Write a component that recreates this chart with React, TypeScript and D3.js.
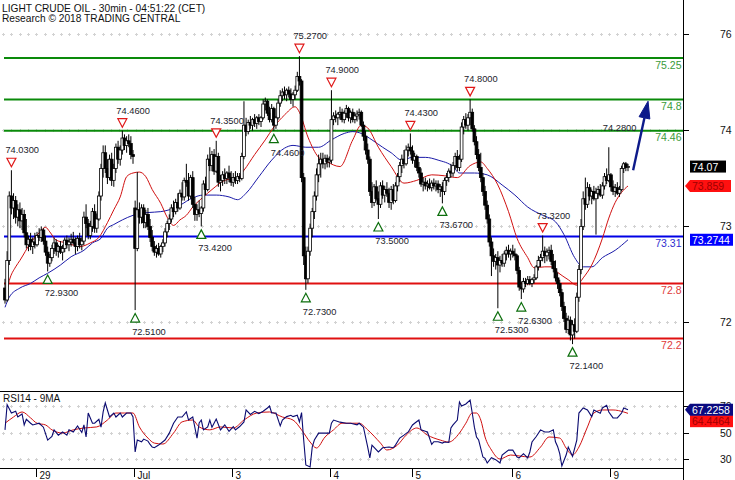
import React from 'react';
import * as d3 from 'd3';

const titleLine1 = 'LIGHT CRUDE OIL - 30min - 04:51:22 (CET)';
const titleLine2 = 'Research \u00A9 2018 TRADING CENTRAL';
const rsiTitle = 'RSI14 - 9MA';

// 30-minute candles: [open, high, low, close]
const candles: [number, number, number, number][] = [
  [72.75,72.85,72.58,72.62],[72.62,73.15,72.60,73.05],[73.05,73.80,73.00,73.75],[73.75,74.03,73.55,73.62],
  [73.62,73.78,73.50,73.70],[73.70,73.75,73.45,73.52],[73.52,73.66,73.42,73.60],[73.60,73.68,73.40,73.48],
  [73.48,73.62,73.38,73.55],[73.55,73.60,73.30,73.35],[73.35,73.50,73.18,73.22],[73.22,73.32,73.15,73.28],
  [73.28,73.35,73.16,73.20],[73.20,73.30,73.12,73.25],[73.25,73.35,73.18,73.22],[73.22,73.36,73.20,73.32],
  [73.32,73.40,73.26,73.30],[73.30,73.42,73.25,73.38],[73.38,73.40,73.22,73.26],[73.26,73.32,73.10,73.14],
  [73.14,73.20,72.93,73.02],[73.02,73.12,72.98,73.08],[73.08,73.22,73.04,73.18],[73.18,73.30,73.12,73.24],
  [73.24,73.28,73.10,73.15],[73.15,73.22,73.08,73.20],[73.20,73.26,73.12,73.14],[73.14,73.22,73.05,73.18],
  [73.18,73.30,73.14,73.27],[73.27,73.32,73.18,73.22],[73.22,73.30,73.15,73.25],[73.25,73.34,73.20,73.28],
  [73.28,73.36,73.22,73.24],[73.24,73.30,73.12,73.20],[73.20,73.32,73.15,73.29],[73.29,73.35,73.18,73.22],
  [73.22,73.30,73.16,73.26],[73.26,73.58,73.22,73.52],[73.52,73.66,73.40,73.45],[73.45,73.50,73.28,73.32],
  [73.32,73.48,73.28,73.42],[73.42,73.62,73.36,73.58],[73.58,73.66,73.35,73.40],[73.40,73.56,73.35,73.50],
  [73.50,73.80,73.48,73.75],[73.75,74.10,73.70,74.05],[74.05,74.30,73.95,74.22],[74.22,74.30,74.00,74.05],
  [74.05,74.15,73.88,73.95],[73.95,74.20,73.92,74.15],[74.15,74.22,73.86,73.92],[73.92,74.10,73.85,74.05],
  [74.05,74.32,74.00,74.28],[74.28,74.35,74.10,74.15],[74.15,74.30,74.08,74.25],[74.25,74.46,74.20,74.38],
  [74.38,74.42,74.25,74.30],[74.30,74.40,74.22,74.35],[74.35,74.42,74.28,74.32],[74.32,74.40,74.15,74.20],
  [74.20,74.25,74.10,74.18],
  [73.62,73.70,72.51,73.18],[73.18,74.01,73.15,73.60],[73.60,73.68,73.45,73.52],[73.52,73.66,73.45,73.62],
  [73.62,73.66,73.40,73.46],[73.46,73.60,73.40,73.55],[73.55,73.62,73.38,73.42],[73.42,73.50,73.25,73.30],
  [73.30,73.38,73.15,73.20],[73.20,73.26,73.10,73.14],[73.14,73.22,73.08,73.18],[73.18,73.24,73.10,73.12],
  [73.12,73.22,73.08,73.20],[73.20,73.28,73.14,73.24],[73.24,73.40,73.20,73.36],[73.36,73.48,73.30,73.45],
  [73.45,73.55,73.38,73.50],[73.50,73.66,73.46,73.62],[73.62,73.70,73.52,73.58],[73.58,73.72,73.55,73.68],
  [73.68,73.78,73.58,73.62],[73.62,73.82,73.60,73.78],[73.78,73.90,73.70,73.74],[73.74,73.95,73.70,73.92],
  [73.92,74.10,73.85,73.90],[73.90,74.00,73.70,73.75],[73.75,73.98,73.72,73.95],[73.95,74.02,73.62,73.66],
  [73.66,73.74,73.48,73.55],[73.55,73.66,73.48,73.60],[73.60,73.70,73.52,73.56],[73.56,73.64,73.42,73.62],
  [73.62,73.92,73.58,73.88],[73.88,73.96,73.76,73.82],[73.82,74.20,73.80,74.15],[74.15,74.28,74.02,74.08],
  [74.08,74.24,74.02,74.20],[74.20,74.26,73.98,74.02],[74.02,74.35,74.00,74.18],[74.18,74.22,73.85,73.90],
  [73.90,73.98,73.80,73.92],[73.92,74.02,73.86,73.98],[73.98,74.05,73.88,73.94],[73.94,74.02,73.88,74.00],
  [74.00,74.08,73.90,73.95],[73.95,74.02,73.86,73.90],
  [73.90,74.00,73.85,73.95],[73.95,74.02,73.88,73.92],[73.92,74.00,73.88,73.96],[73.96,74.00,73.90,73.94],
  [73.94,74.22,73.92,74.18],[74.18,74.78,74.15,74.52],[74.52,74.60,74.40,74.45],[74.45,74.58,74.42,74.55],
  [74.55,74.62,74.48,74.52],[74.52,74.60,74.46,74.58],[74.58,74.64,74.50,74.54],[74.54,74.62,74.48,74.60],
  [74.60,74.64,74.52,74.56],[74.56,74.62,74.50,74.60],[74.60,74.80,74.58,74.75],[74.75,74.82,74.68,74.78],
  [74.78,74.80,74.62,74.65],[74.65,74.72,74.55,74.58],[74.58,74.75,74.55,74.70],[74.70,74.72,74.46,74.52],
  [74.52,74.62,74.48,74.60],[74.60,74.80,74.58,74.76],[74.76,74.90,74.72,74.84],[74.84,74.92,74.78,74.88],
  [74.88,74.94,74.80,74.85],[74.85,74.92,74.78,74.90],[74.90,74.94,74.82,74.86],[74.86,74.92,74.75,74.80],
  [74.80,74.88,74.72,74.85],[74.85,74.95,74.80,74.90],[74.90,75.10,74.88,75.05],[75.05,75.27,74.95,75.00],
  [75.00,75.02,73.90,73.95],[73.95,74.00,73.00,73.10],[73.10,73.20,72.73,72.85],[72.85,73.20,72.80,73.15],
  [73.15,73.45,73.10,73.40],[73.40,73.62,73.30,73.58],[73.58,73.80,73.50,73.75],[73.75,74.05,73.70,73.98],
  [73.98,74.20,73.90,74.10],[74.10,74.22,73.95,74.15],[74.15,74.22,74.05,74.10],[74.10,74.20,74.04,74.16],
  [74.16,74.20,74.06,74.12],[74.12,74.18,74.06,74.14],
  [74.14,74.90,74.10,74.58],[74.58,74.66,74.52,74.62],[74.62,74.68,74.55,74.60],[74.60,74.66,74.52,74.64],
  [74.64,74.72,74.58,74.66],[74.66,74.70,74.55,74.58],[74.58,74.68,74.54,74.65],[74.65,74.74,74.60,74.70],
  [74.70,74.72,74.56,74.60],[74.60,74.68,74.54,74.66],[74.66,74.70,74.55,74.58],[74.58,74.66,74.54,74.62],
  [74.62,74.68,74.56,74.64],[74.64,74.70,74.58,74.66],[74.66,74.68,74.50,74.52],[74.52,74.56,74.35,74.40],
  [74.40,74.46,74.20,74.25],[74.25,74.32,74.10,74.15],[74.15,74.18,73.75,73.80],[73.80,73.90,73.62,73.68],
  [73.68,73.88,73.64,73.85],[73.85,73.92,73.70,73.72],[73.72,73.80,73.50,73.66],[73.66,73.90,73.62,73.86],
  [73.86,73.92,73.72,73.76],[73.76,73.86,73.68,73.82],[73.82,73.90,73.74,73.78],[73.78,73.84,73.62,73.68],
  [73.68,73.86,73.60,73.82],[73.82,73.88,73.66,73.70],[73.70,73.90,73.68,73.86],[73.86,74.00,73.80,73.96],
  [73.96,74.12,73.90,74.08],[74.08,74.20,74.00,74.15],[74.15,74.25,74.05,74.10],[74.10,74.30,74.08,74.25],
  [74.25,74.32,74.18,74.28],[74.28,74.43,74.20,74.24],
  [74.24,74.30,74.10,74.14],[74.14,74.22,74.06,74.18],[74.18,74.20,74.02,74.06],[74.06,74.12,73.95,74.00],
  [74.00,74.05,73.85,73.88],[73.88,73.95,73.80,73.90],[73.90,73.95,73.82,73.86],[73.86,73.92,73.80,73.88],
  [73.88,73.94,73.82,73.84],[73.84,73.92,73.80,73.89],[73.89,73.94,73.82,73.86],[73.86,73.92,73.80,73.88],
  [73.88,73.92,73.78,73.82],[73.82,73.88,73.74,73.85],[73.85,73.90,73.67,73.80],[73.80,73.95,73.76,73.92],
  [73.92,74.00,73.86,73.95],[73.95,74.05,73.90,74.02],[74.02,74.10,73.95,74.00],[74.00,74.12,73.96,74.08],
  [74.08,74.22,74.04,74.18],[74.18,74.25,74.02,74.06],[74.06,74.20,74.02,74.15],[74.15,74.55,74.12,74.50],
  [74.50,74.62,74.42,74.58],[74.58,74.65,74.48,74.52],[74.52,74.64,74.46,74.60],[74.60,74.80,74.52,74.66],
  [74.66,74.70,74.45,74.48],[74.48,74.52,74.30,74.34],[74.34,74.40,74.15,74.20],[74.20,74.26,74.02,74.06],
  [74.06,74.22,73.90,73.95],[73.95,74.00,73.75,73.80],[73.80,73.86,73.60,73.65],[73.65,73.70,73.45,73.50],
  [73.50,73.55,73.20,73.25],[73.25,73.30,72.88,73.10],[73.10,73.18,72.98,73.04],[73.04,73.12,72.95,73.08],
  [73.08,73.15,72.53,73.00],[73.00,73.10,72.92,73.05],[73.05,73.12,72.98,73.02],[73.02,73.15,72.98,73.12],
  [73.12,73.20,73.05,73.16],[73.16,73.22,73.08,73.12],[73.12,73.18,73.05,73.15],
  [73.15,73.22,73.08,73.12],[73.12,73.18,73.05,73.10],[73.10,73.12,72.90,72.94],[72.94,72.98,72.72,72.76],
  [72.76,72.82,72.63,72.74],[72.74,72.86,72.70,72.82],[72.82,72.86,72.76,72.80],[72.80,72.88,72.78,72.84],
  [72.84,72.88,72.78,72.80],[72.80,72.86,72.76,72.84],[72.84,72.90,72.80,72.86],[72.86,73.00,72.84,72.98],
  [72.98,73.10,72.94,73.05],[73.05,73.12,72.98,73.08],[73.08,73.32,73.04,73.15],[73.15,73.20,73.02,73.10],
  [73.10,73.18,73.04,73.14],[73.14,73.20,73.06,73.16],[73.16,73.22,73.00,73.04],[73.04,73.12,72.92,72.96],
  [72.96,73.05,72.82,72.86],[72.86,72.92,72.74,72.80],[72.80,72.84,72.66,72.70],[72.70,72.74,72.50,72.55],
  [72.55,72.60,72.38,72.42],[72.42,72.48,72.26,72.30],[72.30,72.45,72.25,72.40],[72.40,72.44,72.18,72.24],
  [72.24,72.40,72.14,72.35],[72.35,72.42,72.20,72.28],[72.28,72.70,72.26,72.65],[72.65,73.00,72.60,72.95],
  [72.95,73.50,72.90,73.42],[73.42,73.80,73.38,73.72],[73.72,73.95,73.60,73.66],[73.66,73.90,73.62,73.84],
  [73.84,73.88,73.70,73.75],[73.75,73.82,73.66,73.80],[73.80,73.86,73.70,73.72],[73.72,73.84,73.33,73.78],
  [73.78,73.86,73.72,73.82],[73.82,73.88,73.74,73.76],[73.76,73.90,73.72,73.86],[73.86,74.00,73.82,73.96],
  [73.96,74.05,73.88,73.92],[73.92,74.28,73.90,73.98],
  [73.98,74.00,73.80,73.85],[73.85,73.92,73.76,73.80],[73.80,73.88,73.74,73.84],[73.84,73.90,73.76,73.78],
  [73.78,73.86,73.74,73.82],[73.82,74.08,73.80,74.05],[74.05,74.12,74.00,74.10],[74.10,74.12,74.02,74.06],
  [74.06,74.10,74.02,74.07],
];

// moving averages on price, read at bar positions: [bar, value]
const maFast: [number, number][] = [
  [0,72.62],[2,72.83],[5,72.98],[7,73.05],[12,73.24],[16,73.35],[19,73.41],[21,73.36],[24,73.27],[29,73.24],
  [35,73.20],[40,73.24],[44,73.30],[48,73.46],[51,73.60],[54,73.74],[57,73.96],[60,74.00],[63,74.01],[66,73.96],
  [69,73.82],[73,73.67],[76,73.52],[79,73.43],[82,73.49],[85,73.54],[88,73.63],[93,73.74],[97,73.82],[103,73.92],
  [109,73.95],[112,74.03],[117,74.20],[122,74.36],[126,74.50],[131,74.63],[136,74.72],[138,74.66],[142,74.39],
  [147,74.17],[151,74.12],[157,74.07],[163,74.36],[167,74.52],[170,74.49],[175,74.28],[181,74.07],[187,73.89],
  [193,73.92],[200,73.98],[206,73.97],[212,73.95],[218,74.08],[223,74.12],[226,74.05],[231,73.87],[236,73.58],
  [240,73.29],[245,73.08],[248,72.97],[253,72.98],[256,72.98],[259,72.92],[264,72.84],[268,72.78],[271,72.86],
  [275,73.00],[280,73.29],[283,73.51],[286,73.68],[289,73.79],[292,73.859],
];
const maSlow: [number, number][] = [
  [0,72.54],[2,72.65],[7,72.75],[12,72.80],[16,72.86],[20,72.91],[26,73.00],[31,73.09],[37,73.16],[41,73.24],
  [45,73.29],[48,73.40],[51,73.44],[55,73.49],[60,73.54],[67,73.57],[73,73.58],[77,73.60],[82,73.65],[88,73.73],
  [93,73.76],[99,73.76],[105,73.74],[109,73.71],[113,73.78],[119,73.96],[125,74.14],[131,74.27],[135,74.30],
  [141,74.28],[147,74.28],[153,74.36],[159,74.43],[163,74.45],[167,74.43],[172,74.36],[177,74.28],[181,74.22],
  [186,74.14],[191,74.17],[197,74.17],[203,74.14],[210,74.07],[213,74.00],[220,74.00],[226,73.98],[233,73.87],
  [239,73.76],[245,73.63],[252,73.54],[258,73.47],[262,73.33],[267,73.08],[271,72.98],[275,72.98],[280,73.08],
  [286,73.16],[292,73.2744],
];

// RSI(14) and its 9-period MA: [bar, value]
const rsi: [number, number][] = [
  [0,52],[1,71],[2,68],[3,64.7],[5,66],[6,61.7],[8,64],[9,55.7],[10,60],[12,57],[13,55.7],[16,57],[18,54],
  [20,44.3],[22,47],[23,52],[25,48],[27,50.4],[29,48],[30,52],[32,50.4],[34,55],[36,50],[37,55.7],[38,46.6],
  [39,64.7],[41,57],[42,57],[44,60],[45,54],[46,65.5],[47,72.3],[48,67],[49,61.7],[51,64.7],[52,61.7],[54,64.7],
  [55,61.7],[57,64.7],[59,64.7],[60,61.7],[61,35.3],[62,44.3],[64,43],[65,45],[67,43.5],[68,41],[69,39],
  [70,38.5],[72,40.5],[75,44.3],[77,49.5],[79,57],[81,61.7],[83,61.7],[85,65.5],[86,59.5],[88,61.7],[90,45.8],
  [91,57.2],[92,59.4],[93,52],[95,54.2],[96,59.4],[97,53.9],[99,60.1],[101,52],[103,55.8],[105,50.9],[107,54.5],
  [108,52],[110,54.5],[112,58],[113,67],[115,63.6],[117,66],[119,64.3],[121,66],[123,68.5],[124,70],[125,64.7],
  [127,64.7],[129,55],[130,59.4],[132,62],[134,63],[135,62],[137,63],[138,58],[139,65],[140,44.3],[141,25.5],
  [143,24],[144,39],[145,44.3],[147,49.5],[150,49.5],[152,49.5],[153,57],[154,59.4],[157,57.8],[160,57],
  [162,57],[165,55.8],[166,57],[168,54],[170,39],[171,30.8],[172,40.5],[175,35.3],[177,38.5],[180,39],
  [182,38.5],[183,40.5],[185,45.8],[187,48],[189,50.4],[191,55.7],[192,57],[194,59.4],[195,52],[197,51],
  [198,50.4],[200,41],[201,43],[203,43],[205,42],[206,42.8],[208,42.5],[209,53.4],[210,55.7],[212,59.4],
  [213,73],[214,70],[216,71.5],[218,74.5],[219,64.7],[220,54],[221,46.6],[222,44.3],[224,31.5],[225,30.5],
  [226,27],[228,31],[230,29.5],[232,27],[233,33],[236,36.7],[238,36.7],[240,31.5],[241,30.8],[243,34],
  [245,30.8],[246,35.3],[247,42.8],[249,47],[251,52],[253,50.4],[255,50.4],[257,52],[258,43],[259,39.5],
  [260,34],[261,24.7],[263,33],[264,39],[266,32],[268,44.3],[269,64.7],[271,68.5],[273,67],[275,62],[276,67],
  [279,64.5],[280,68.5],[282,70.5],[283,65.5],[285,61],[287,61],[289,64.7],[290,68.5],[292,67.2258],
];
const rsiMA: [number, number][] = [
  [0,57],[4,61.7],[8,65.5],[12,61],[15,57],[19,55.7],[22,52],[27,49.6],[32,52],[37,53.4],[43,54.2],[48,59.4],
  [52,64.7],[56,64.7],[60,64.7],[63,54.2],[67,45.8],[70,42],[74,41.3],[79,49.6],[83,58],[88,59.4],[91,54.2],
  [96,52],[101,54.2],[107,53.4],[112,59.4],[118,64.7],[124,65.5],[130,61.7],[135,59.4],[139,52],[143,42.8],
  [146,38.3],[150,46.6],[154,52],[158,57],[163,57],[166,57],[170,52],[176,42],[179,36.8],[184,40.6],[188,48],
  [193,53.4],[198,48],[204,44.3],[208,42.8],[213,49.6],[216,57],[219,64.7],[221,64.7],[223,59.4],[225,46.6],
  [228,36.8],[232,30],[237,33],[241,32.3],[246,31.5],[251,39],[255,46.6],[260,45.8],[263,38.3],[266,33],
  [269,39],[273,54.2],[276,64.7],[280,67],[285,67],[290,65.5],[292,64.4464],
];

// session starts and labels on the time axis
const dayStartBars = [15, 61, 107, 153, 191, 238, 284];
const dayLabels = ['29', 'Jul', '3', '4', '5', '6', '9'];

// right axis ticks as printed on the chart
const priceTickValues = [75, 74, 73, 72];
const priceTickLabels = ['76', '74', '73', '72'];
const rsiTickValues = [70, 50, 30];

// support / resistance levels
const resistanceLevels = [75.25, 74.8, 74.46];
const pivotLevels = [73.31];
const supportLevels = [72.8, 72.2];

// swing annotations (bar indices)
const swingHighBars = [3, 55, 99, 138, 153, 190, 218, 252];
const swingLowBars = [20, 61, 92, 126, 141, 175, 205, 231, 242, 266];
const textOnlyHighBars = [283];

// forecast arrow (bar, price)
const forecastFrom: [number, number] = [294.4, 74.03];
const forecastTo: [number, number] = [301.4, 74.78];

const FONT = 'Liberation Sans, Arial, sans-serif';

export default function App() {
  const n = candles.length;
  const x = d3.scaleLinear().domain([0, n - 1]).range([5, 628]);
  const y = d3.scaleLinear().domain([72, 75]).range([357, 81]);
  const axisY = d3.scaleLinear().domain([72, 74]).range([322, 130]);
  const ry = d3.scaleLinear().domain([30, 70]).range([459, 406]);

  const AXIS_X = 683;
  const RSI_TOP = 391.5;
  const RSI_BOTTOM = 468.5;

  const maLine = d3.line<[number, number]>().x(d => x(d[0])).y(d => y(d[1])).curve(d3.curveMonotoneX);
  const rsiLine = d3.line<[number, number]>().x(d => x(d[0])).y(d => ry(d[1]));
  const rsiMaLine = d3.line<[number, number]>().x(d => x(d[0])).y(d => ry(d[1])).curve(d3.curveMonotoneX);

  const plusRow = (yy: number) => {
    let d = '';
    for (let gx = 3; gx < AXIS_X - 2; gx += 8.3) {
      const px = Math.round(gx) + 0.5;
      d += `M${px - 1.5},${yy}h3M${px},${yy - 1.5}v3`;
    }
    return d;
  };
  const gridYs = [...priceTickValues.map(v => axisY(v)), ...rsiTickValues.map(v => ry(v))];

  const levels = [
    ...resistanceLevels.map(v => ({ v, line: '#0a8a0a', text: '#3a9a3a' })),
    ...pivotLevels.map(v => ({ v, line: '#0000e6', text: '#3030d0' })),
    ...supportLevels.map(v => ({ v, line: '#e01010', text: '#e03a3a' })),
  ];

  const lastClose = candles[n - 1][3];
  const lastFast = maFast[maFast.length - 1][1];
  const lastSlow = maSlow[maSlow.length - 1][1];
  const lastRsi = rsi[rsi.length - 1][1];
  const lastRsiMa = rsiMA[rsiMA.length - 1][1];

  // forecast arrow geometry
  const fx0 = x(forecastFrom[0]), fy0 = y(forecastFrom[1]);
  const fx1 = x(forecastTo[0]), fy1 = y(forecastTo[1]);
  const len = Math.hypot(fx1 - fx0, fy1 - fy0);
  const ux = (fx1 - fx0) / len, uy = (fy1 - fy0) / len;
  const bx = fx1 - ux * 17, by = fy1 - uy * 17;
  const head = `M${fx1},${fy1}L${bx - uy * 5.5},${by + ux * 5.5}L${bx + uy * 5.5},${by - ux * 5.5}Z`;

  const rsiBoxY = ry(lastRsi);
  const rsiMaBoxY = Math.max(ry(lastRsiMa), rsiBoxY + 11.5);

  return (
    <svg width={735} height={480} style={{ position: 'fixed', left: 0, top: 0, background: '#fff' }}
      fontFamily={FONT}>
      <rect x={0} y={0} width={735} height={480} fill="#fff" />
      {/* header */}
      <text x={2} y={11.5} fontSize={10.2} fill="#111">{titleLine1}</text>
      <text x={2} y={22} fontSize={10.2} fill="#111">{titleLine2}</text>

      {/* grid */}
      {gridYs.map((gy, k) => (
        <path key={k} d={plusRow(Math.round(gy) + 0.5)} stroke="#d2d2d2" strokeWidth={1} fill="none" />
      ))}

      {/* levels */}
      {levels.map((l, k) => (
        <g key={k}>
          <line x1={4} x2={AXIS_X} y1={y(l.v)} y2={y(l.v)} stroke={l.line} strokeWidth={2} />
          <text x={681.5} y={y(l.v) + 10.5} textAnchor="end" fontSize={10.5} fill={l.text}>{String(l.v)}</text>
        </g>
      ))}

      {/* moving averages */}
      <path d={maLine(maSlow) || ''} fill="none" stroke="#1a1aa8" strokeWidth={1} />
      <path d={maLine(maFast) || ''} fill="none" stroke="#d01010" strokeWidth={1} />

      {/* candles */}
      {candles.map(([o, h, l, c], i) => {
        const cx = x(i);
        const top = y(Math.max(o, c));
        const bot = y(Math.min(o, c));
        const up = c >= o;
        return (
          <g key={i}>
            <line x1={cx} x2={cx} y1={y(h)} y2={y(l)} stroke="#000" strokeWidth={1} />
            <rect x={cx - 1.4} y={top} width={2.8} height={Math.max(bot - top, 1)}
              fill={up ? '#fff' : '#000'} stroke="#000" strokeWidth={0.8} />
          </g>
        );
      })}

      {/* swing highs */}
      {swingHighBars.map(i => {
        const cx = x(i), hy = y(candles[i][1]);
        return (
          <g key={'h' + i}>
            <path d={`M${cx - 4.5},${hy - 12}L${cx + 4.5},${hy - 12}L${cx},${hy - 3.5}Z`} fill="#fff" stroke="#e01818" strokeWidth={1.2} />
            <text x={cx - 6} y={hy - 17} fontSize={9.3} fill="#1c1c2c">{candles[i][1].toFixed(4)}</text>
          </g>
        );
      })}
      {textOnlyHighBars.map(i => {
        const cx = x(i), hy = y(candles[i][1]);
        return <text key={'t' + i} x={cx - 6} y={hy - 16} fontSize={9.3} fill="#1c1c2c">{candles[i][1].toFixed(4)}</text>;
      })}
      {/* swing lows */}
      {swingLowBars.map(i => {
        const cx = x(i), ly = y(candles[i][2]);
        return (
          <g key={'l' + i}>
            <path d={`M${cx - 4.5},${ly + 12}L${cx + 4.5},${ly + 12}L${cx},${ly + 3.5}Z`} fill="#fff" stroke="#0c6e0c" strokeWidth={1.2} />
            <text x={cx - 3} y={ly + 25} fontSize={9.3} fill="#1c1c2c">{candles[i][2].toFixed(4)}</text>
          </g>
        );
      })}

      {/* forecast arrow */}
      <line x1={fx0} y1={fy0} x2={bx} y2={by} stroke="#0d1a8a" strokeWidth={2.4} />
      <path d={head} fill="#0d1a8a" stroke="#0d1a8a" strokeWidth={1} />

      {/* RSI panel */}
      <line x1={0} x2={AXIS_X} y1={RSI_TOP} y2={RSI_TOP} stroke="#000" strokeWidth={1} />
      <line x1={0} x2={AXIS_X} y1={RSI_BOTTOM} y2={RSI_BOTTOM} stroke="#000" strokeWidth={1} />
      <text x={3} y={402} fontSize={10} fill="#111">{rsiTitle}</text>
      <path d={rsiMaLine(rsiMA) || ''} fill="none" stroke="#d01010" strokeWidth={1} />
      <path d={rsiLine(rsi) || ''} fill="none" stroke="#0a0a70" strokeWidth={1.1} />

      {/* time axis */}
      {dayStartBars.map((b, k) => {
        const tx = Math.round(x(b) - 1) + 0.5;
        return (
          <g key={k}>
            <line x1={tx} x2={tx} y1={RSI_BOTTOM} y2={477} stroke="#000" strokeWidth={1} />
            <text x={tx + 3} y={478.5} fontSize={10} fill="#111">{dayLabels[k]}</text>
          </g>
        );
      })}

      {/* right axis */}
      <line x1={AXIS_X + 0.5} x2={AXIS_X + 0.5} y1={0} y2={480} stroke="#000" strokeWidth={1} />
      {priceTickValues.map((v, k) => (
        <g key={k}>
          <line x1={AXIS_X} x2={AXIS_X + 6} y1={Math.round(axisY(v)) + 0.5} y2={Math.round(axisY(v)) + 0.5} stroke="#000" />
          <text x={720} y={axisY(v) + 4} fontSize={10.5} fill="#111">{priceTickLabels[k]}</text>
        </g>
      ))}
      {rsiTickValues.map((v, k) => (
        <g key={'r' + k}>
          <line x1={AXIS_X} x2={AXIS_X + 6} y1={Math.round(ry(v)) + 0.5} y2={Math.round(ry(v)) + 0.5} stroke="#000" />
          <text x={720} y={ry(v) + 4} fontSize={10.5} fill="#111">{String(v)}</text>
        </g>
      ))}

      {/* value boxes */}
      <rect x={690} y={y(lastClose) - 6} width={36} height={12} fill="#000" />
      <text x={692} y={y(lastClose) + 4} fontSize={10.5} fill="#fff">{lastClose.toFixed(2)}</text>

      <path d={`M685,${y(lastFast)}L690,${y(lastFast) - 6}H731V${y(lastFast) + 6}H690Z`} fill="#ff1010" />
      <text x={692} y={y(lastFast) + 4} fontSize={10.5} fill="#a00000">{lastFast.toFixed(3)}</text>

      <rect x={690} y={y(lastSlow) - 6} width={43} height={12} fill="#0000ff" />
      <text x={692} y={y(lastSlow) + 4} fontSize={10.5} fill="#fff">{lastSlow.toFixed(4)}</text>

      <rect x={690} y={rsiMaBoxY - 6} width={43} height={12} fill="#ff1010" />
      <text x={692} y={rsiMaBoxY + 4} fontSize={10.5} fill="#a00000">{lastRsiMa.toFixed(4)}</text>

      <path d={`M685,${rsiBoxY}L690,${rsiBoxY - 6}H733V${rsiBoxY + 6}H690Z`} fill="#0a0a80" />
      <text x={692} y={rsiBoxY + 4} fontSize={10.5} fill="#fff">{lastRsi.toFixed(4)}</text>
    </svg>
  );
}
